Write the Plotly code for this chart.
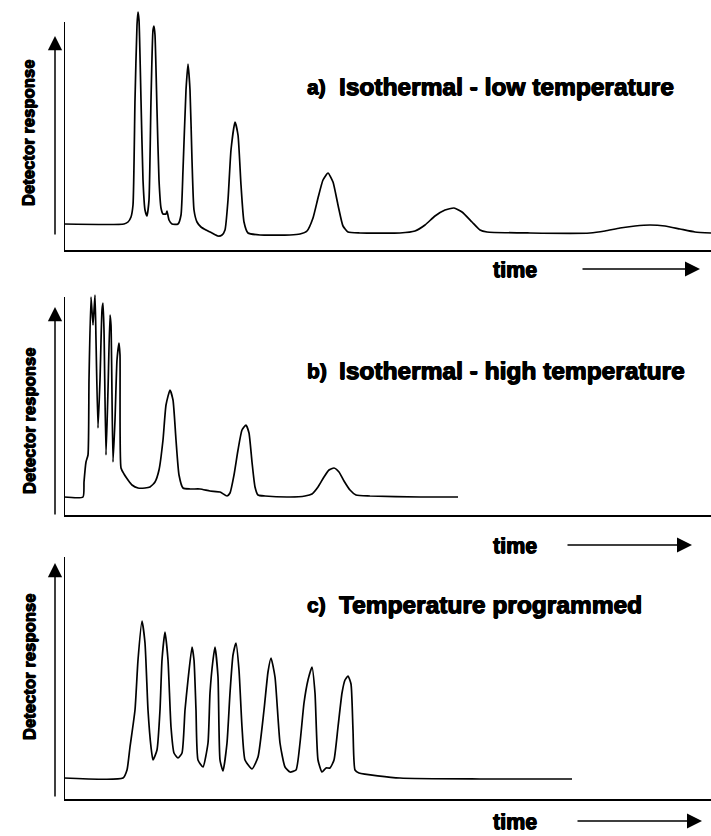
import plotly.graph_objects as go

# ---------------- data (time vs detector response) ----------------
time_a = [0, 60, 64, 67, 69, 71, 73, 74, 75, 77, 79, 81, 83, 85, 87, 89, 90, 91, 93, 95, 97, 99,
          102, 103, 105, 108, 114, 117, 119, 122, 124, 126, 128, 130, 133, 137, 142, 148, 154, 158,
          161, 164, 167, 171, 174, 177, 180, 184, 196, 226, 236, 243, 249, 254, 259, 264, 269, 274,
          279, 284, 296, 336, 351, 361, 371, 381, 390, 398, 408, 416, 423, 466, 526, 541, 556, 571,
          586, 601, 616, 631, 647]
resp_a = [26, 26, 28, 33, 45, 150, 225, 238, 230, 150, 70, 40, 34, 50, 150, 220, 224, 215, 140, 70,
          42, 36, 36, 39, 30, 26, 26, 35, 80, 160, 186, 160, 90, 40, 28, 23, 20, 17, 14, 15, 20, 50,
          100, 128, 115, 65, 28, 17, 15, 15, 16, 19, 32, 52, 70, 77, 68, 45, 24, 18, 17, 17, 19, 25,
          34, 40, 42, 38, 28, 20, 18, 17, 17, 19, 22, 24, 25, 24, 21, 18, 17]

time_b = [0, 19, 20, 22, 24, 25, 27, 29, 31, 32, 34, 36, 38, 39, 40, 42, 44, 46, 47, 49, 51, 53,
          55, 56, 57, 60, 64, 68, 74, 81, 86, 91, 95, 99, 102, 106, 109, 112, 115, 119, 126, 136,
          146, 156, 163, 166, 170, 174, 178, 182, 185, 188, 191, 194, 201, 226, 241, 248, 254, 260,
          265, 270, 275, 280, 286, 292, 306, 356, 394]
resp_b = [18, 18, 33, 53, 60, 135, 218, 190, 220, 175, 87, 135, 205, 212, 185, 60, 125, 200, 190,
          53, 95, 155, 172, 160, 47, 41, 35, 30, 27, 27, 28, 33, 45, 75, 110, 125, 115, 75, 40, 27,
          26, 26, 24, 23, 19, 22, 40, 65, 85, 90, 82, 53, 28, 20, 19, 18, 19, 21, 28, 38, 45, 47,
          43, 34, 25, 20, 19, 18, 18]

time_c = [0, 59, 63, 66, 71, 74, 78, 81, 84, 87, 89, 93, 96, 98, 101, 104, 107, 110, 114, 118, 121,
          124, 128, 130, 132, 134, 139, 144, 146, 149, 151, 154, 156, 159, 163, 166, 169, 172, 175,
          178, 181, 188, 194, 200, 204, 207, 211, 216, 221, 226, 232, 236, 240, 244, 248, 251, 254,
          258, 262, 266, 270, 274, 278, 281, 284, 287, 289, 291, 295, 336, 416, 508]
resp_c = [21, 21, 29, 52, 89, 139, 178, 156, 89, 52, 39, 49, 89, 139, 167, 139, 72, 46, 41, 46, 89,
          119, 152, 139, 89, 39, 32, 56, 106, 139, 152, 122, 39, 28, 56, 106, 144, 156, 129, 72, 39,
          30, 42, 89, 127, 141, 122, 56, 32, 27, 29, 56, 96, 119, 132, 106, 39, 27, 31, 31, 39, 72,
          106, 119, 123, 115, 69, 29, 26, 21, 20, 20]

panel_labels = ["a)", "b)", "c)"]
panel_titles = ["Isothermal - low temperature", "Isothermal - high temperature",
                "Temperature programmed"]
y_title = "Detector response"
x_title = "time"

# ---------------- layout helpers ----------------
W, H = 711, 836
def px(x):
    return x / W
def py(y):
    return 1 - y / H

BLACK = "#000000"
FONT = "Liberation Sans, Arial, sans-serif"
HEAVY = "0.6px 0 0 #000, -0.6px 0 0 #000, 0 0.5px 0 #000"

series = [(time_a, resp_a), (time_b, resp_b), (time_c, resp_c)]
panels = [
    dict(dom=[py(250), 1.0], yr=[0, 250], spine=228, lab_y=87, ylab_y=133, time_y=270,
         yarr=(36, 236), tarr=(581, 700)),
    dict(dom=[py(515), py(290)], yr=[0, 225], spine=218, lab_y=371, ylab_y=421, time_y=546,
         yarr=(307, 516), tarr=(566, 692)),
    dict(dom=[py(799), py(550)], yr=[0, 249], spine=242, lab_y=604, ylab_y=667, time_y=822,
         yarr=(563, 798), tarr=(576, 702)),
]

fig = go.Figure()
layout = dict(width=W, height=H, margin=dict(l=0, r=0, t=0, b=0),
              paper_bgcolor="white", plot_bgcolor="white", showlegend=False)
annotations = []
shapes = []

for i, ((t, r), p) in enumerate(zip(series, panels)):
    n = "" if i == 0 else str(i + 1)
    xa, ya = "x" + n, "y" + n
    fig.add_trace(go.Scatter(x=t, y=r, mode="lines", xaxis=xa, yaxis=ya,
                             line=dict(color=BLACK, width=1.7, shape="spline", smoothing=0.5),
                             hoverinfo="skip"))
    layout["xaxis" + n] = dict(domain=[px(64), 1.0], range=[0, 647], anchor=ya,
                               showline=True, linecolor=BLACK, linewidth=2,
                               showgrid=False, zeroline=False, ticks="", showticklabels=False,
                               fixedrange=True)
    layout["yaxis" + n] = dict(domain=p["dom"], range=p["yr"], anchor=xa,
                               showline=False, showgrid=False, zeroline=False, ticks="",
                               showticklabels=False, fixedrange=True)
    shapes.append(dict(type="line", xref=xa, yref=ya, x0=0, x1=0, y0=0, y1=p["spine"],
                       line=dict(color=BLACK, width=2)))
    annotations.append(dict(xref="paper", yref="paper", x=px(55), y=py(p["yarr"][0]),
                            axref="pixel", ayref="pixel", ax=0, ay=p["yarr"][1] - p["yarr"][0],
                            showarrow=True, arrowhead=2, arrowsize=1.9, arrowwidth=1.5,
                            arrowcolor=BLACK, text=""))
    annotations.append(dict(xref="paper", yref="paper", x=px(29), y=py(p["ylab_y"]),
                            text="<b>" + y_title + "</b>", textangle=-90, showarrow=False,
                            xanchor="center", yanchor="middle",
                            font=dict(family=FONT, size=16.7, color=BLACK, shadow=HEAVY)))
    annotations.append(dict(xref="paper", yref="paper", x=px(305), y=py(p["lab_y"]),
                            text="<b>" + panel_labels[i] + "</b>", showarrow=False,
                            xanchor="left", yanchor="middle",
                            font=dict(family=FONT, size=21, color=BLACK, shadow=HEAVY)))
    annotations.append(dict(xref="paper", yref="paper", x=px(337), y=py(p["lab_y"]),
                            text="<b>" + panel_titles[i] + "</b>", showarrow=False,
                            xanchor="left", yanchor="middle",
                            font=dict(family=FONT, size=24.5, color=BLACK, shadow=HEAVY)))
    annotations.append(dict(xref="paper", yref="paper", x=px(515), y=py(p["time_y"]),
                            text="<b>" + x_title + "</b>", showarrow=False,
                            xanchor="center", yanchor="middle",
                            font=dict(family=FONT, size=21.5, color=BLACK, shadow=HEAVY)))
    tail, head = p["tarr"]
    annotations.append(dict(xref="paper", yref="paper", x=px(head), y=py(p["time_y"] - 1),
                            axref="pixel", ayref="pixel", ax=tail - head, ay=0,
                            showarrow=True, arrowhead=2, arrowsize=2, arrowwidth=1.5,
                            arrowcolor=BLACK, text=""))

layout["annotations"] = annotations
layout["shapes"] = shapes
fig.update_layout(**layout)
fig.write_html("out.html")
